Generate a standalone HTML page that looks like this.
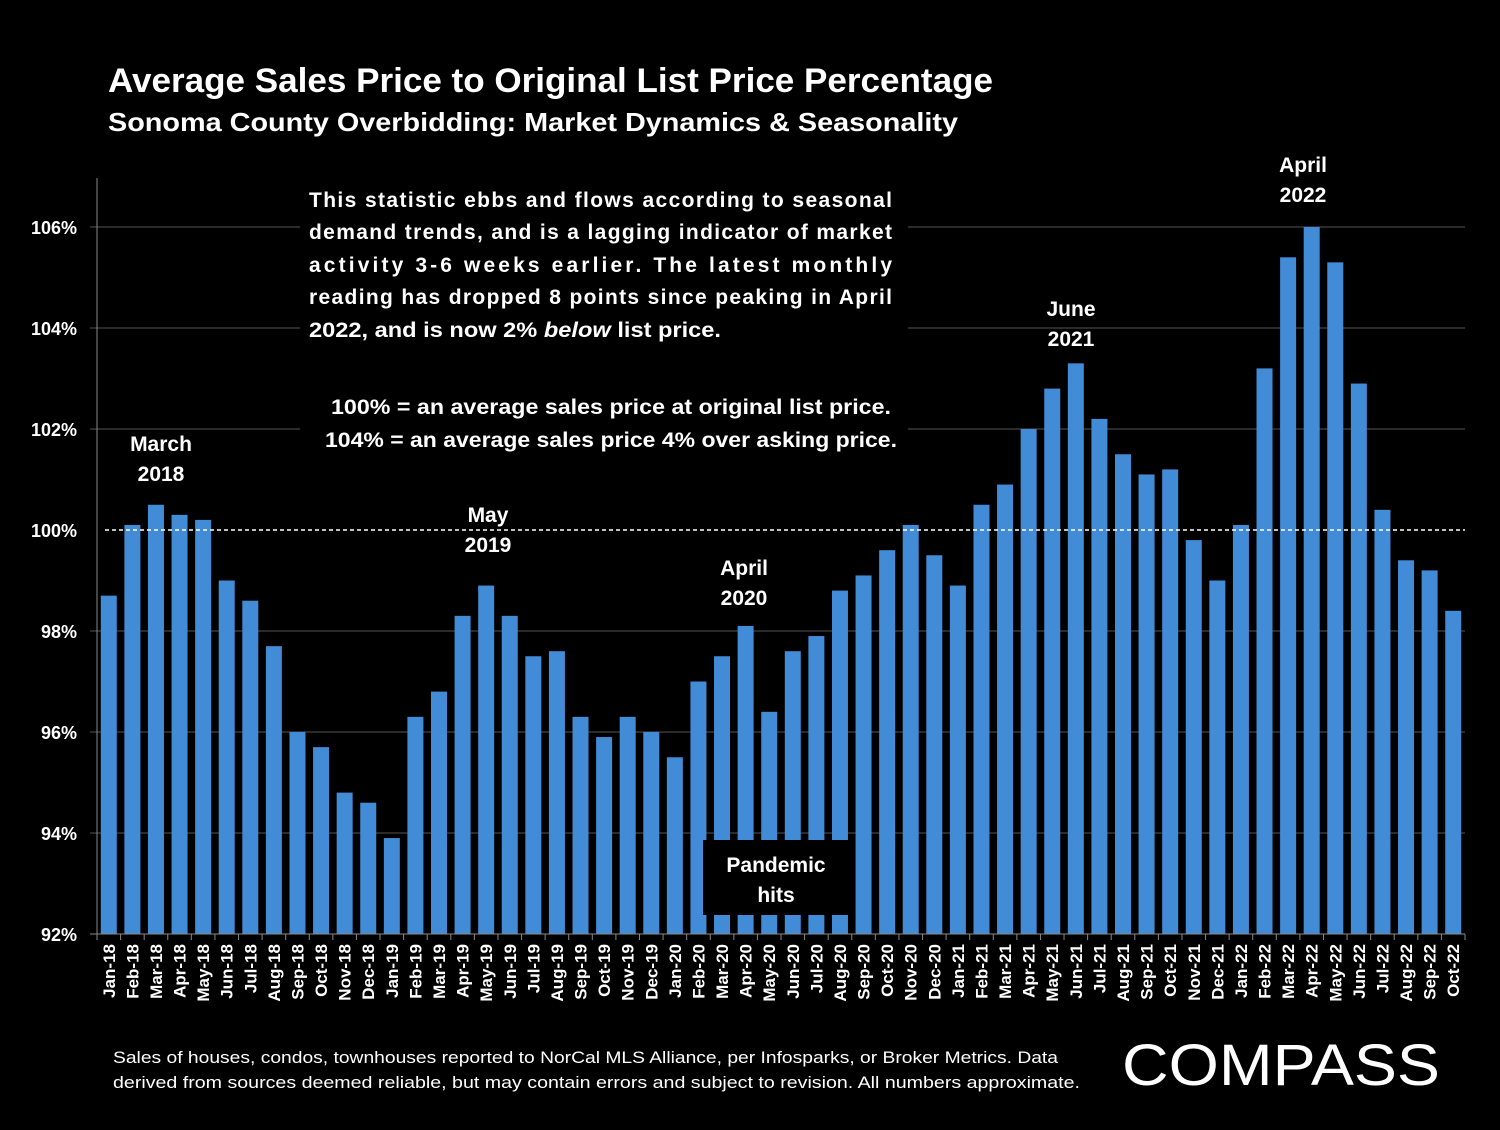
<!DOCTYPE html>
<html><head><meta charset="utf-8">
<style>
html,body{margin:0;padding:0;background:#000;}
body{width:1500px;height:1125px;overflow:hidden;font-family:"Liberation Sans",sans-serif;}
svg text{font-family:"Liberation Sans",sans-serif;fill:#fff;}
</style></head>
<body>
<svg id="chart" width="1500" height="1125" viewBox="0 0 1500 1125" xmlns="http://www.w3.org/2000/svg">
<rect x="0" y="0" width="1500" height="1125" fill="#000"/>
<text x="108" y="92" font-size="34" font-weight="bold" textLength="885" lengthAdjust="spacingAndGlyphs">Average Sales Price to Original List Price Percentage</text>
<text x="108" y="131" font-size="26" font-weight="bold" textLength="850" lengthAdjust="spacingAndGlyphs">Sonoma County Overbidding: Market Dynamics &amp; Seasonality</text>
<g id="grid"></g>
<g id="bars"></g>
<g id="axes"></g>
<g id="annots"></g>
<text x="113" y="1063" font-size="17" textLength="945" lengthAdjust="spacingAndGlyphs">Sales of houses, condos, townhouses reported to NorCal MLS Alliance, per Infosparks, or Broker Metrics. Data</text>
<text x="113" y="1088" font-size="17" textLength="967" lengthAdjust="spacingAndGlyphs">derived from sources deemed reliable, but may contain errors and subject to revision. All numbers approximate.</text>
<text x="1122" y="1085" font-size="58" textLength="318" lengthAdjust="spacingAndGlyphs">COMPASS</text>
</svg>
<script>
const categories=["Jan-18","Feb-18","Mar-18","Apr-18","May-18","Jun-18","Jul-18","Aug-18","Sep-18","Oct-18","Nov-18","Dec-18",
"Jan-19","Feb-19","Mar-19","Apr-19","May-19","Jun-19","Jul-19","Aug-19","Sep-19","Oct-19","Nov-19","Dec-19",
"Jan-20","Feb-20","Mar-20","Apr-20","May-20","Jun-20","Jul-20","Aug-20","Sep-20","Oct-20","Nov-20","Dec-20",
"Jan-21","Feb-21","Mar-21","Apr-21","May-21","Jun-21","Jul-21","Aug-21","Sep-21","Oct-21","Nov-21","Dec-21",
"Jan-22","Feb-22","Mar-22","Apr-22","May-22","Jun-22","Jul-22","Aug-22","Sep-22","Oct-22"];
const values=[98.7,100.1,100.5,100.3,100.2,99.0,98.6,97.7,96.0,95.7,94.8,94.6,
93.9,96.3,96.8,98.3,98.9,98.3,97.5,97.6,96.3,95.9,96.3,96.0,
95.5,97.0,97.5,98.1,96.4,97.6,97.9,98.8,99.1,99.6,100.1,99.5,
98.9,100.5,100.9,102.0,102.8,103.3,102.2,101.5,101.1,101.2,99.8,99.0,
100.1,103.2,105.4,106.0,105.3,102.9,100.4,99.4,99.2,98.4];
const yTicks=[92,94,96,98,100,102,104,106];
const yTickLabels=["92%","94%","96%","98%","100%","102%","104%","106%"];

const NS="http://www.w3.org/2000/svg";
const plotL=97, plotR=1465, y0=934, pxPer=50.5, yMin=92;
const step=(plotR-plotL)/categories.length;
function yScale(v){return y0-(v-yMin)*pxPer;}
function xCenter(i){return plotL+step*(i+0.5);}
function mk(tag,attrs,parent){const e=document.createElementNS(NS,tag);for(const k in attrs)e.setAttribute(k,attrs[k]);parent.appendChild(e);return e;}

const grid=document.getElementById('grid');
yTicks.forEach((t,i)=>{
  const y=yScale(t);
  if(t!==100&&t!==92){const l=mk('line',{x1:90,x2:plotR,y1:y,y2:y,stroke:'#555','stroke-width':1},grid);
  
  }
  const tx=mk('text',{x:77,y:y+7,'font-size':18,'font-weight':'bold','text-anchor':'end'},grid);
  tx.textContent=yTickLabels[i];
  
  
});

const bars=document.getElementById('bars');
const bw=16;
values.forEach((v,i)=>{
  const y=yScale(v);
  const r=mk('rect',{x:xCenter(i)-bw/2,y:y,width:bw,height:y0-y,fill:'#428bd6'},bars);
  
  
});

const axes=document.getElementById('axes');
const ref=mk('line',{x1:105,x2:plotR,y1:yScale(100),y2:yScale(100),stroke:'#fff','stroke-width':1.5,'stroke-dasharray':'4,3'},axes);


const ya=mk('line',{x1:plotL,x2:plotL,y1:178,y2:y0,stroke:'#888','stroke-width':1},axes);


const xa=mk('line',{x1:90,x2:plotR,y1:y0,y2:y0,stroke:'#888','stroke-width':1},axes);


for(let i=0;i<=categories.length;i++){
  const x=plotL+step*i;
  const tk=mk('line',{x1:x,x2:x,y1:y0,y2:y0+6,stroke:'#888'},axes);
  
  
}
categories.forEach((c,i)=>{
  const x=xCenter(i)+6;
  const t=mk('text',{x:x,y:944,'font-size':17,'font-weight':'bold','text-anchor':'end',transform:`rotate(-90 ${x} 944)`},axes);
  t.textContent=c;
  
  
});

const an=document.getElementById('annots');
const box=mk('rect',{x:300,y:180,width:608,height:282,fill:'#000'},an);


const noteLines=[
 ["This statistic ebbs and flows according to seasonal",207],
 ["demand trends, and is a lagging indicator of market",239],
 ["activity 3-6 weeks earlier. The latest monthly",272],
 ["reading has dropped 8 points since peaking in April",304]];
noteLines.forEach(([s,y])=>{
  const t=mk('text',{x:309,y:y,'font-size':21,'font-weight':'bold',textLength:583,lengthAdjust:'spacing'},an);
  t.textContent=s;
  
  
});
const last=mk('text',{x:309,y:337,'font-size':21,'font-weight':'bold',textLength:412,lengthAdjust:'spacingAndGlyphs'},an);
last.innerHTML='2022, and is now 2% <tspan font-style="italic">below</tspan> list price.';


[["100% = an average sales price at original list price.",331,560,414],["104% = an average sales price 4% over asking price.",325,572,447]].forEach(([s,x,w,y])=>{
  const t=mk('text',{x:x,y:y,'font-size':21,'font-weight':'bold',textLength:w,lengthAdjust:'spacingAndGlyphs'},an);
  t.textContent=s;
  
  
});
const pbox=mk('rect',{x:703,y:840,width:149,height:75,fill:'#000'},an);


const labels=[["March",161,451],["2018",161,481],["May",488,522],["2019",488,552],["April",744,575],["2020",744,605],
["June",1071,316],["2021",1071,346],["April",1303,172],["2022",1303,202],["Pandemic",776,872],["hits",776,902]];
labels.forEach(([s,x,y])=>{
  const t=mk('text',{x:x,y:y,'font-size':21,'font-weight':'bold','text-anchor':'middle'},an);
  t.textContent=s;
  
  
});
</script>
</body></html>
